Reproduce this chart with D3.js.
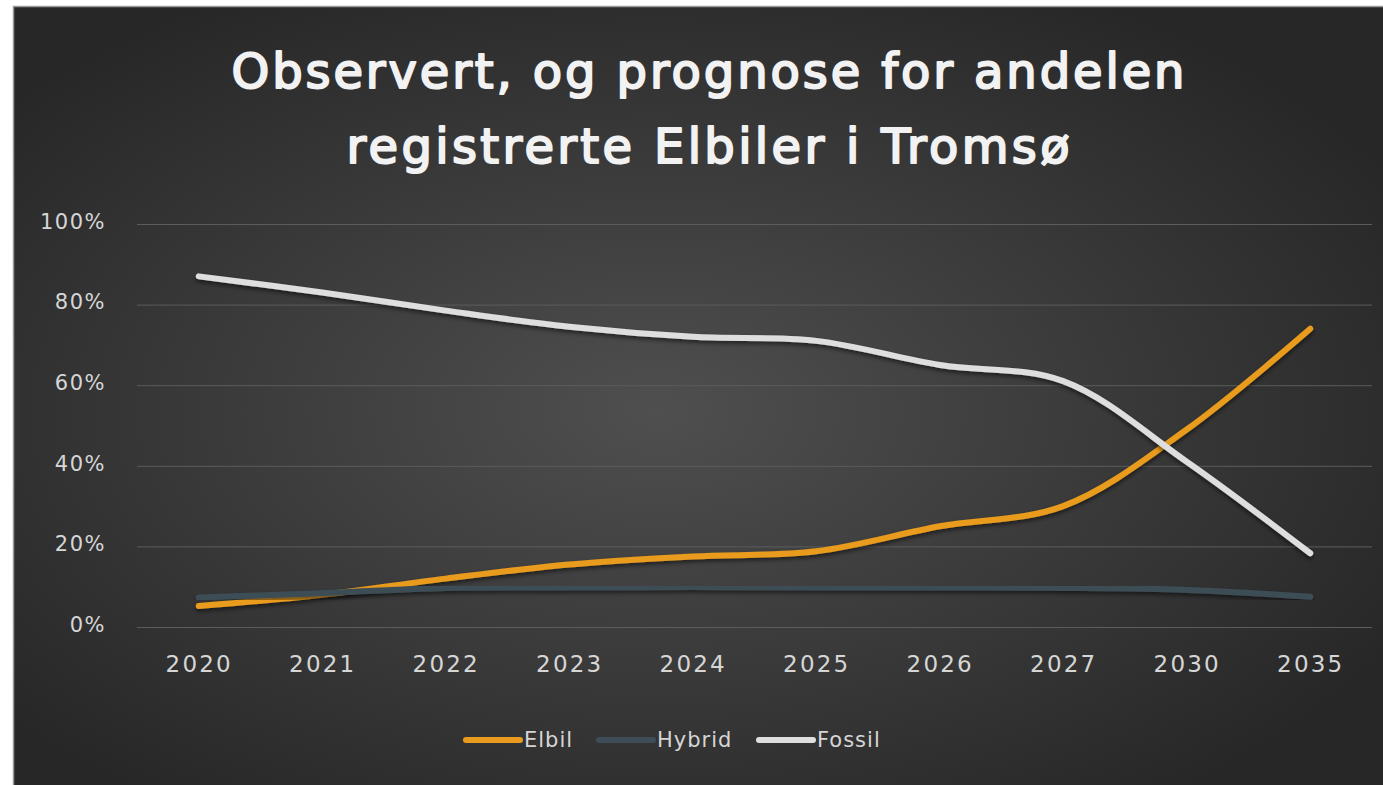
<!DOCTYPE html>
<html lang="no">
<head>
  <meta charset="utf-8">
  <title>Elbiler i Tromsø</title>
  <script src="https://d3js.org/d3.v7.min.js"></script>
  <style>
    body { margin: 0; background: #fff; }
    text { font-family: "DejaVu Sans", sans-serif; }
  </style>
</head>
<body>
<div id="chart"></div>
<script>
  // data (share in %)
  const years = ["2020", "2021", "2022", "2023", "2024", "2025", "2026", "2027", "2030", "2035"]
  const elbil = [5.2, 8, 12, 15.5, 17.5, 18.8, 25, 30, 49, 74]
  const hybrid = [7.3, 8.4, 9.7, 9.8, 9.9, 9.8, 9.8, 9.7, 9.2, 7.5]
  const fossil = [87, 83, 78.5, 74.5, 72, 71, 65, 61, 41, 18.3]
  const yTicks = [0, 20, 40, 60, 80, 100]
  const titleLines = ["Observert, og prognose for andelen", "registrerte Elbiler i Tromsø"]

  const series = [
    { name: "Elbil", values: elbil, color: "#e89b1f" },
    { name: "Hybrid", values: hybrid, color: "#3e4d57" },
    { name: "Fossil", values: fossil, color: "#dedede" }
  ]

  const W = 1383, H = 785
  const margin = { top: 224, right: 11, bottom: 158, left: 137 }

  const svg = d3.select("#chart")
    .append("svg")
    .attr("width", W)
    .attr("height", H)

  const defs = svg.append("defs")
  const grad = defs.append("radialGradient")
    .attr("id", "bg")
    .attr("cx", "47%").attr("cy", "52%").attr("r", "62%")
  grad.append("stop").attr("offset", "0%").attr("stop-color", "#4f4f4f")
  grad.append("stop").attr("offset", "100%").attr("stop-color", "#272727")

  const shadow = defs.append("filter")
    .attr("id", "shadow")
    .attr("x", "-10%").attr("y", "-10%").attr("width", "120%").attr("height", "130%")
  shadow.append("feDropShadow")
    .attr("dx", 0).attr("dy", 2.5)
    .attr("stdDeviation", 2)
    .attr("flood-color", "#000")
    .attr("flood-opacity", 0.55)

  // panel with thin grey border on top and left
  svg.append("rect")
    .attr("x", 14).attr("y", 7)
    .attr("width", W - 14).attr("height", H - 7)
    .attr("fill", "url(#bg)")
  svg.append("path")
    .attr("d", `M13.5,${H} V6.5 H${W}`)
    .attr("fill", "none")
    .attr("stroke", "#9a9a9a")
    .attr("stroke-width", 1.5)

  // title
  svg.append("g")
    .selectAll("text")
    .data(titleLines)
    .join("text")
      .attr("x", 708)
      .attr("y", (d, i) => 88 + i * 75)
      .attr("text-anchor", "middle")
      .attr("fill", "#f2f2f2")
      .attr("stroke", "#f2f2f2")
      .attr("stroke-width", 2)
      .attr("stroke-linejoin", "round")
      .attr("font-size", 48)
      .attr("textLength", (d, i) => i == 0 ? 953 : 723)
      .attr("lengthAdjust", "spacing")
      .text(d => d)

  const width = W - margin.left - margin.right
  const height = H - margin.top - margin.bottom
  const g = svg.append("g")
    .attr("transform", `translate(${margin.left}, ${margin.top})`)

  const x = d3.scalePoint()
    .domain(years)
    .range([0, width])
    .padding(0.5)

  const y = d3.scaleLinear()
    .domain([0, 100])
    .range([height, 0])

  // gridlines + y labels
  const yAxis = g.append("g")
    .call(d3.axisLeft(y).tickValues(yTicks).tickSize(-width).tickFormat(d => d + "%"))
  yAxis.select(".domain").remove()
  yAxis.selectAll(".tick line")
    .attr("stroke", "#5c5c5c")
    .attr("stroke-width", 1)
  yAxis.selectAll(".tick text")
    .attr("x", -31)
    .attr("dy", "0.2em")
    .attr("fill", "#d6d6d6")
    .attr("font-size", 21)
    .attr("letter-spacing", 1.5)
    .style("font-family", "DejaVu Sans")

  // x labels
  const xAxis = g.append("g")
    .attr("transform", `translate(0, ${height})`)
    .call(d3.axisBottom(x).tickSize(0))
  xAxis.select(".domain").remove()
  xAxis.selectAll(".tick text")
    .attr("y", 29)
    .attr("dy", "0.71em")
    .attr("fill", "#d6d6d6")
    .attr("font-size", 23)
    .attr("letter-spacing", 2.2)
    .style("font-family", "DejaVu Sans")

  const line = d3.line()
    .x((d, i) => x(years[i]))
    .y(d => y(d))
    .curve(d3.curveCatmullRom.alpha(0.5))

  g.append("g")
    .selectAll("path")
    .data(series)
    .join("path")
      .attr("d", d => line(d.values))
      .attr("fill", "none")
      .attr("stroke", d => d.color)
      .attr("stroke-width", 6)
      .attr("stroke-linecap", "round")
      .attr("filter", "url(#shadow)")

  // legend
  const legendX = [464, 597, 757]
  const legend = svg.append("g")
    .selectAll("g")
    .data(series)
    .join("g")
      .attr("transform", (d, i) => `translate(${legendX[i]}, 740)`)
  legend.append("line")
    .attr("x1", 2).attr("x2", 56)
    .attr("stroke", d => d.color)
    .attr("stroke-width", 6)
    .attr("stroke-linecap", "round")
  legend.append("text")
    .attr("x", 60)
    .attr("dy", "0.35em")
    .attr("fill", "#d6d6d6")
    .attr("font-size", 21)
    .attr("letter-spacing", 1)
    .text(d => d.name)
</script>
</body>
</html>
